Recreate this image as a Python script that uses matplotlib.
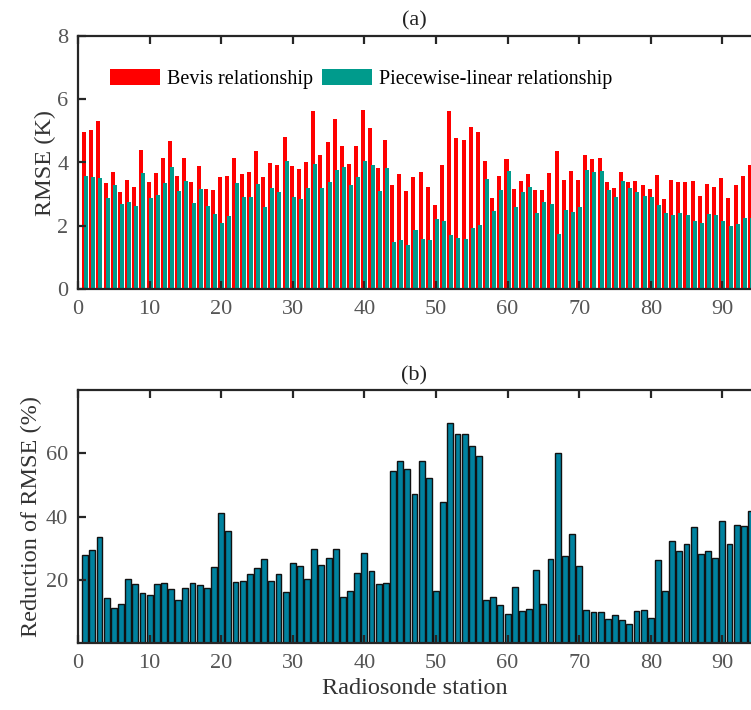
import numpy as np
import matplotlib.pyplot as plt

plt.rcParams['font.family'] = ['Liberation Serif', 'DejaVu Serif']

stations = np.arange(1, 95)

rmse_bevis = [4.96, 5.03, 5.31, 3.35, 3.70, 3.07, 3.45, 3.23, 4.39, 3.38,
              3.67, 4.14, 4.68, 3.57, 4.14, 3.38, 3.89, 3.16, 3.13, 3.54,
              3.57, 4.14, 3.64, 3.70, 4.36, 3.54, 3.98, 3.92, 4.80, 3.89,
              3.79, 4.02, 5.62, 4.24, 4.65, 5.37, 4.52, 3.95, 4.52, 5.66,
              5.09, 3.83, 4.70, 3.29, 3.64, 3.10, 3.54, 3.70, 3.23, 2.66,
              3.92, 5.62, 4.77, 4.70, 5.12, 4.96, 4.05, 2.88, 3.57, 4.11,
              3.16, 3.42, 3.64, 3.13, 3.13, 3.67, 4.36, 3.45, 3.73, 3.45,
              4.24, 4.11, 4.14, 3.38, 3.20, 3.70, 3.38, 3.42, 3.29, 3.16,
              3.61, 2.85, 3.45, 3.38, 3.38, 3.42, 2.94, 3.32, 3.23, 3.51,
              2.88, 3.29, 3.57, 3.92]

rmse_piecewise = [3.57, 3.54, 3.51, 2.88, 3.29, 2.69, 2.75, 2.63, 3.67, 2.88,
                  2.97, 3.35, 3.86, 3.10, 3.42, 2.72, 3.16, 2.63, 2.38, 2.09,
                  2.31, 3.35, 2.91, 2.91, 3.32, 2.60, 3.20, 3.07, 4.05, 2.91,
                  2.85, 3.20, 3.95, 3.20, 3.38, 3.76, 3.86, 3.29, 3.54, 4.05,
                  3.92, 3.10, 3.83, 1.49, 1.56, 1.40, 1.87, 1.59, 1.56, 2.22,
                  2.15, 1.71, 1.62, 1.59, 1.93, 2.03, 3.48, 2.47, 3.13, 3.73,
                  2.60, 3.07, 3.23, 2.41, 2.75, 2.69, 1.74, 2.50, 2.44, 2.60,
                  3.76, 3.70, 3.73, 3.13, 2.91, 3.42, 3.20, 3.07, 2.94, 2.91,
                  2.66, 2.41, 2.34, 2.41, 2.34, 2.15, 2.09, 2.38, 2.34, 2.15,
                  2.00, 2.06, 2.25, 2.25]

reduction = [27.8, 29.5, 33.6, 14.2, 11.3, 12.3, 20.2, 18.7, 16.0, 15.2,
             18.7, 18.9, 17.3, 13.6, 17.6, 18.9, 18.3, 17.5, 24.1, 41.1,
             35.5, 19.3, 19.7, 21.9, 23.7, 26.5, 19.6, 22.0, 16.1, 25.5,
             24.4, 20.2, 29.7, 24.8, 26.9, 29.8, 14.5, 16.5, 22.1, 28.4,
             22.8, 18.6, 19.0, 54.5, 57.6, 54.9, 47.1, 57.6, 52.1, 16.5,
             44.5, 69.5, 66.0, 66.2, 62.2, 59.0, 13.8, 14.6, 12.2, 9.2,
             17.7, 10.1, 10.7, 23.1, 12.4, 26.5, 60.1, 27.5, 34.4, 24.4,
             10.6, 9.8, 9.8, 7.6, 9.0, 7.4, 6.1, 10.3, 10.5, 8.0,
             26.4, 16.4, 32.4, 29.1, 31.5, 36.8, 28.2, 29.0, 26.9, 38.6,
             31.3, 37.3, 37.2, 41.8]

W, H = 751, 710
fig = plt.figure(figsize=(W / 100, H / 100), dpi=100)
ax1 = fig.add_axes([78 / W, 1 - 289.3 / H, 1 - 78 / W, (289.3 - 35.7) / H])
ax2 = fig.add_axes([78 / W, 1 - 643.3 / H, 1 - 78 / W, (643.3 - 390) / H])

fs_tick = 16
fs_lab = 17.5
spine_c = '#262626'
tick_c = '#555555'
lab_c = '#333333'


def style(ax):
    for side in ['left', 'bottom', 'top']:
        ax.spines[side].set_linewidth(1.6)
        ax.spines[side].set_color(spine_c)
    ax.spines['right'].set_visible(False)
    ax.tick_params(direction='in', length=6, width=1.6, color=spine_c,
                   labelsize=fs_tick, top=True, labelcolor=tick_c)
    ax.tick_params(axis='x', pad=8)
    ax.tick_params(axis='y', pad=7)
    ax.set_xlim(0, 94)
    ax.set_xticks(np.arange(0, 91, 10))


# (a) RMSE of the two relationships
ax1.bar(stations - 0.15, rmse_bevis, width=0.56, color='#ff0000',
        label='Bevis relationship')
ax1.bar(stations + 0.14, rmse_piecewise, width=0.56, color='#009b8c',
        label='Piecewise-linear relationship')
style(ax1)
ax1.set_ylim(0, 8)
ax1.set_yticks([0, 2, 4, 6, 8])
ax1.set_ylabel('RMSE (K)', fontsize=fs_lab, color=lab_c, labelpad=1)
ax1.set_title('(a)', fontsize=16, color='#222222', pad=7)
ax1.legend(loc='upper left', bbox_to_anchor=(0.035, 0.9), ncol=2, frameon=False,
           fontsize=14.5, handlelength=2.5, handleheight=0.85, handletextpad=0.35,
           columnspacing=0.45, borderaxespad=0)

# (b) reduction of RMSE
ax2.bar(stations, reduction, width=0.82, color='#00829f', edgecolor='#111111',
        linewidth=1.0)
style(ax2)
ax2.set_ylim(0, 80)
ax2.set_yticks([20, 40, 60])
ax2.set_ylabel('Reduction of RMSE (%)', fontsize=fs_lab, color=lab_c, labelpad=3)
ax2.set_xlabel('Radiosonde station', fontsize=fs_lab, color=lab_c, labelpad=3)
ax2.set_title('(b)', fontsize=16, color='#222222', pad=7)

fig.savefig('out.png', dpi=100)
